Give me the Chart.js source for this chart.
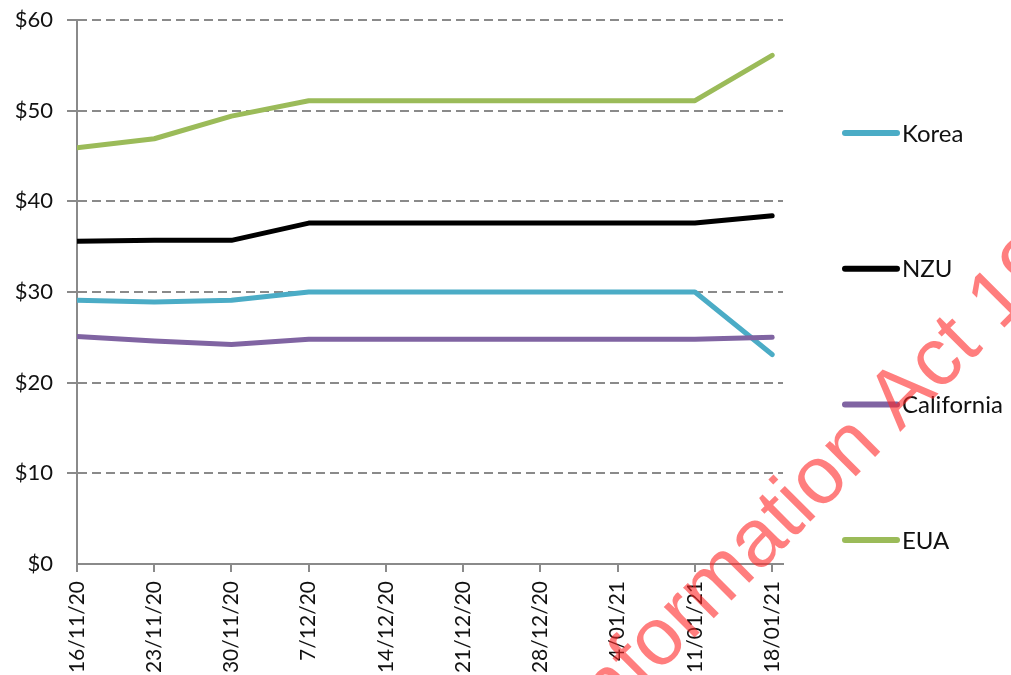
<!DOCTYPE html>
<html>
<head>
<meta charset="utf-8">
<script src="https://cdn.jsdelivr.net/npm/chart.js@4/dist/chart.umd.min.js"></script>
<style>
  html, body { margin: 0; padding: 0; background: #fff; }
  #wrap { width: 1011px; height: 675px; position: relative; }
</style>
</head>
<body>
<div id="wrap"><canvas id="myChart"></canvas></div>
<script>
// 週ごとの日付
const dates = ["16/11/20", "23/11/20", "30/11/20", "7/12/20", "14/12/20", "21/12/20", "28/12/20", "4/01/21", "11/01/21", "18/01/21"];
// 各市場の価格
const korea = [29.1, 28.9, 29.1, 30.0, 30.0, 30.0, 30.0, 30.0, 30.0, 23.1];
const nzu = [35.6, 35.7, 35.7, 37.6, 37.6, 37.6, 37.6, 37.6, 37.6, 38.4];
const california = [25.1, 24.6, 24.2, 24.8, 24.8, 24.8, 24.8, 24.8, 24.8, 25.0];
const eua = [45.9, 46.9, 49.4, 51.1, 51.1, 51.1, 51.1, 51.1, 51.1, 56.1];
const yTicks = [0, 10, 20, 30, 40, 50, 60];

const seriesNames = ["Korea", "NZU", "California", "EUA"];
const seriesColors = ["#4bacc6", "#000000", "#8064a2", "#9bbb59"];
const seriesData = [korea, nzu, california, eua];

const FONT = "Lato, 'Open Sans', sans-serif";
const TEXT = "#111111";

function toPoints(arr) {
  return arr.map(function (v, i) { return { x: i, y: v }; });
}

// 凡例（右側に縦並び）
const sideLegend = {
  id: "sideLegend",
  afterDraw(chart) {
    const ctx = chart.ctx;
    ctx.save();
    ctx.font = "24px " + FONT;
    ctx.textBaseline = "middle";
    ctx.fillStyle = TEXT;
    seriesNames.forEach(function (name, i) {
      const y = 133 + i * 135.7;
      ctx.strokeStyle = seriesColors[i];
      ctx.lineWidth = 6;
      ctx.lineCap = "round";
      ctx.beginPath();
      ctx.moveTo(845, y);
      ctx.lineTo(897, y);
      ctx.stroke();
      ctx.fillText(name, 902, y + 1);
    });
    ctx.restore();
  }
};

// 透かし（"Act" の A を基準に配置）
const stamp = {
  id: "stamp",
  afterDraw(chart) {
    const ctx = chart.ctx;
    ctx.save();
    ctx.font = "82px 'Liberation Sans', Arial, sans-serif";
    ctx.fillStyle = "rgba(255, 40, 40, 0.6)";
    const pre = "Released under the Official Information ";
    const w = ctx.measureText(pre).width;
    ctx.translate(900, 432);
    ctx.rotate(-45 * Math.PI / 180);
    ctx.fillText("Released under the Official Information Act 1982", -w, 0);
    ctx.restore();
  }
};

const ctx = document.getElementById("myChart").getContext("2d");
const chart = new Chart(ctx, {
  type: "line",
  data: {
    datasets: seriesNames.map(function (name, i) {
      return {
        label: name,
        data: toPoints(seriesData[i]),
        borderColor: seriesColors[i],
        backgroundColor: seriesColors[i],
        borderWidth: 5,
        borderJoinStyle: "round",
        borderCapStyle: "round",
        pointRadius: 0,
        tension: 0,
        fill: false
      };
    }).reverse()
  },
  options: {
    responsive: true,
    maintainAspectRatio: false,
    animation: false,
    layout: { padding: { top: 20, right: 228, left: 0, bottom: 0 } },
    plugins: {
      legend: { display: false },
      tooltip: { enabled: false }
    },
    scales: {
      x: {
        type: "linear",
        min: 0,
        max: 9.14,
        afterBuildTicks: function (scale) {
          scale.ticks = dates.map(function (d, i) { return { value: i }; });
        },
        afterFit: function (scale) {
          scale.height = 111;
          scale.paddingLeft = 0;
          scale.paddingRight = 0;
        },
        border: { display: true, color: "#8a8a8a", width: 2 },
        grid: { drawOnChartArea: false, drawTicks: true, tickLength: 8, color: "#8a8a8a", lineWidth: 2 },
        ticks: {
          autoSkip: false,
          minRotation: 90,
          maxRotation: 90,
          padding: 9,
          color: TEXT,
          font: { family: FONT, size: 21 },
          callback: function (v) { return dates[v]; }
        }
      },
      y: {
        min: 0,
        max: 60,
        afterBuildTicks: function (scale) {
          scale.ticks = yTicks.map(function (v) { return { value: v }; });
        },
        afterFit: function (scale) {
          scale.width = 77;
          scale.paddingTop = 10;
          scale.paddingBottom = 0;
        },
        border: { display: true, color: "#8a8a8a", width: 2, dash: [9, 5] },
        grid: {
          color: function (c) { return c.tick && c.tick.value === 0 ? "rgba(0,0,0,0)" : "#8a8a8a"; },
          lineWidth: 2,
          tickLength: 10
        },
        ticks: {
          padding: 14,
          color: TEXT,
          font: { family: FONT, size: 22 },
          callback: function (v) { return "$" + v; }
        }
      }
    }
  },
  plugins: [sideLegend, stamp]
});
</script>
</body>
</html>
